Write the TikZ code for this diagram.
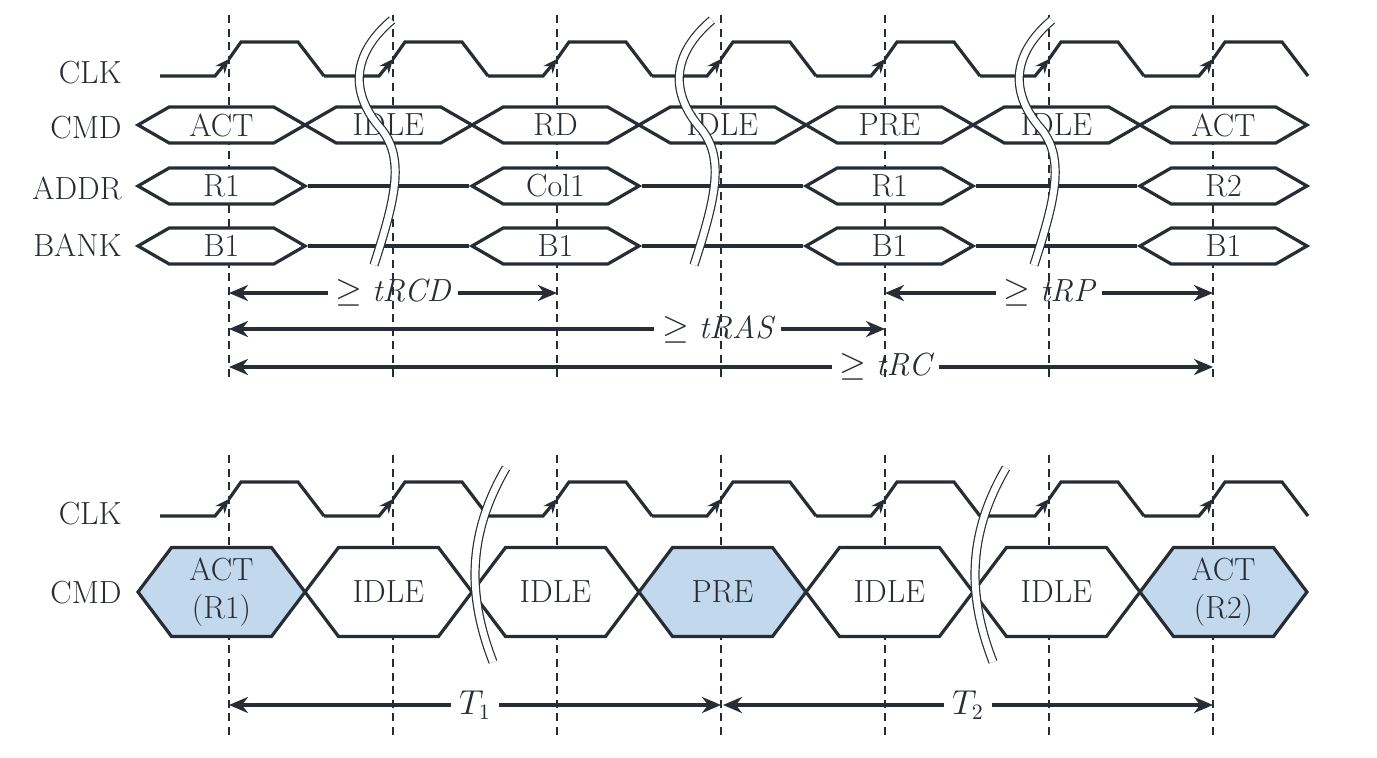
\documentclass[tikz,border=0pt]{standalone}
\usetikzlibrary{arrows.meta,shapes.symbols}
\definecolor{ink}{RGB}{40,44,52}
\definecolor{actblue}{RGB}{194,216,236}
\tikzstyle{wave}=[line width=1.6pt,draw=ink]
\tikzstyle{tick}=[draw=ink,line width=0.65pt,dash pattern=on 4pt off 2.8pt]
\tikzstyle{bus}=[signal,signal to=west and east,signal pointer angle=60,
  			  draw=ink,line width=1.6pt,fill=white,text=ink,
  			  minimum width=83.5pt,minimum height=18pt,inner sep=0pt]
\tikzstyle{tallbus}=[bus,signal pointer angle=106,minimum height=44.5pt,align=center]
\tikzstyle{span}=[{Stealth[length=9.5pt,width=8pt]}-{Stealth[length=9.5pt,width=8pt]},
  			  line width=1.6pt,draw=ink]
\tikzstyle{spanlabel}=[fill=white,text=ink,inner ysep=1pt,inner xsep=4pt]
\tikzstyle{gap}=[draw=ink,line width=0.6pt,double=white,double distance=3.4pt]
\tikzstyle{rowname}=[anchor=east,text=ink,inner sep=0pt]

\begin{document}
\begin{tikzpicture}[x=0.5pt,y=-0.5pt,font=\fontsize{16}{19}\selectfont]
	\useasboundingbox (0,0) rectangle (1377,758);
	\foreach \k in {0,...,6} {
		\coordinate (up\k) at ({229+164*\k},15);
		\coordinate (dn\k) at ({229+164*\k},380);
		\coordinate (lup\k) at ({229+164*\k},455);
		\coordinate (ldn\k) at ({229+164*\k},740);
	}
	\coordinate (rowA) at (0,293);
	\coordinate (rowB) at (0,329);
	\coordinate (rowC) at (0,367);
	\coordinate (rowT) at (0,705);
	\coordinate (midT) at (723,705);

	% timing constraints
	\path (up0 |- rowA) edge[span] node[spanlabel] {$\geq \textit{tRCD}$} (up2 |- rowA)
		(up4 |- rowA) edge[span] node[spanlabel] {$\geq \textit{tRP}$} (up6 |- rowA)
		(up0 |- rowB) edge[span] node[spanlabel,pos=.745] {$\geq \textit{tRAS}$} (up4 |- rowB)
		(up0 |- rowC) edge[span] node[spanlabel,pos=.667] {$\geq \textit{tRC}$} (up6 |- rowC)
		(lup0 |- rowT) edge[span] node[spanlabel] {$T_1$} (lup3 |- rowT)
		(midT) edge[span] node[spanlabel] {$T_2$} (lup6 |- rowT);

	\foreach \k in {0,...,6} {
		\draw[tick] (up\k) -- (dn\k);
		\draw[tick] (lup\k) -- (ldn\k);
	}

	% clocks
	\foreach \y/\h in {76/42,516/482} {
		\foreach \k in {0,...,6} {
			\pgfmathsetmacro\x{229+164*\k}
			\draw[wave,-{Stealth[length=7pt,width=6pt]}] ({\x-69},\y) -- ({\x-14},\y) -- (\x,{(\y+\h)/2});
			\draw[wave] (\x,{(\y+\h)/2}) -- ({\x+12},\h) -- ({\x+69},\h) -- ({\x+95},\y);
		}
	}

	% buses
	\foreach \t [count=\i from 0] in {ACT,IDLE,RD,IDLE,PRE,IDLE,ACT}
		\node[bus] (cmd\i) at ({221.5+167*\i},125) {\t};
	\foreach \t/\i in {R1/0,Col1/2,R1/4,R2/6} {
		\node[bus] (addr\i) at ({221.5+167*\i},186) {\t};
		\node[bus] (bank\i) at ({221.5+167*\i},246) {B1};
	}
	\foreach \a/\b in {0/2,2/4,4/6} {
		\draw[wave] (addr\a.east) -- (addr\b.west);
		\draw[wave] (bank\a.east) -- (bank\b.west);
	}
	\foreach \t/\c [count=\i from 0] in {ACT\\(R1)/actblue,IDLE/white,IDLE/white,
			PRE/actblue,IDLE/white,IDLE/white,ACT\\(R2)/actblue}
		\node[tallbus,fill=\c] (op\i) at ({221.5+167*\i},592) {\t};

	\node[rowname] (clkA) at (122,73) {CLK};
	\node[rowname] (cmdA) at (122,128) {CMD};
	\node[rowname] (addrA) at (122,188) {ADDR};
	\node[rowname] (bankA) at (122,245) {BANK};
	\node[rowname] (clkB) at (122,514) {CLK};
	\node[rowname] (cmdB) at (122,593) {CMD};

	% breaks
	\foreach \s in {0,320,660}
		\draw[gap,shift={(\s,0)}] (392,20) .. controls (345,60) and (355,100) .. (382,130)
			.. controls (405,160) and (395,200) .. (374,265);
	\foreach \s in {0,500}
		\draw[gap,shift={(\s,0)}] (506,468) .. controls (470,530) and (465,590) .. (493,662);
\end{tikzpicture}
\end{document}
